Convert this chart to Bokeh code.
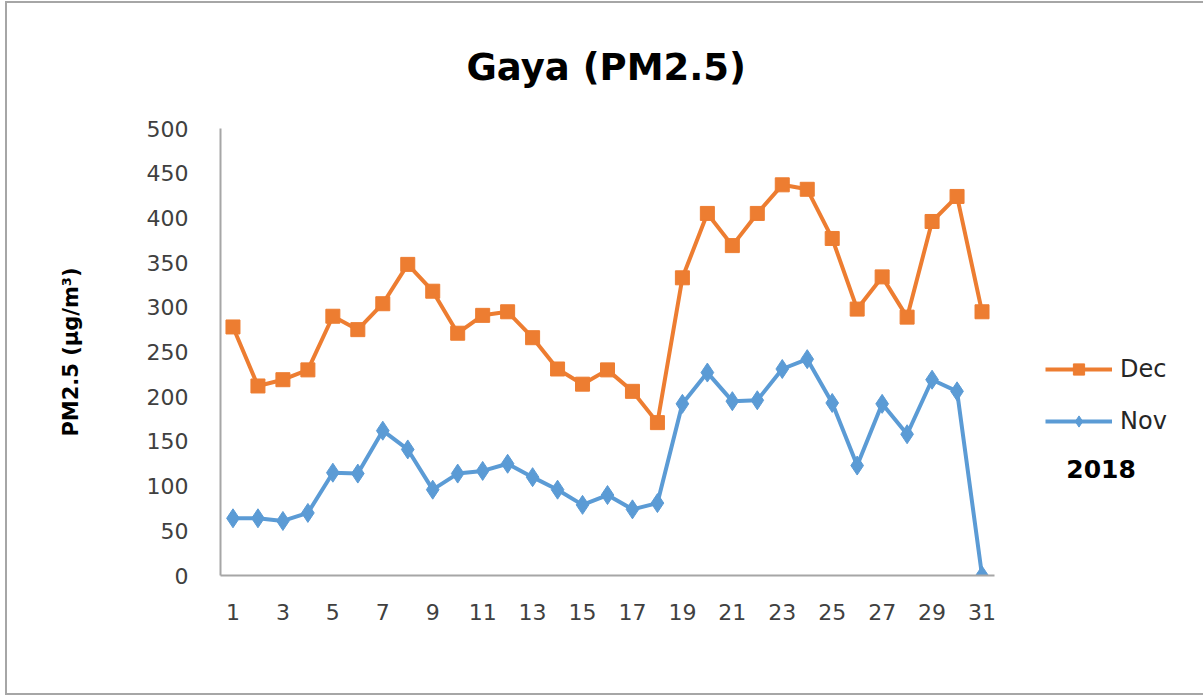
from bokeh.plotting import figure
from bokeh.models import (ColumnDataSource, FixedTicker, Legend, LegendItem,
                          Label, Range1d)
from bokeh.embed import file_html
from bokeh.resources import INLINE

days = list(range(1, 32))
dec_values = [278, 212, 219, 230, 290, 275, 304, 348, 318, 271, 291, 295, 266,
              231, 214, 230, 206, 171, 333, 405, 369, 405, 437, 432, 377, 298,
              334, 289, 396, 424, 295]
nov_values = [64, 64, 61, 70, 115, 114, 162, 141, 96, 114, 117, 125, 110, 96,
              79, 90, 74, 81, 192, 227, 195, 196, 231, 242, 193, 123, 192, 158,
              219, 206, 0]
x_tick_values = [1, 3, 5, 7, 9, 11, 13, 15, 17, 19, 21, 23, 25, 27, 29, 31]
y_tick_values = [0, 50, 100, 150, 200, 250, 300, 350, 400, 450, 500]

title_text = "Gaya (PM2.5)"
y_label = "PM2.5 (µg/m³)"
year_text = "2018"

DEC_COLOR = "#ED7D31"
NOV_COLOR = "#5B9BD5"
FONT = "DejaVu Sans"

# category axis spans 0.5..31.5 over 774 px; the frame is widened to hold the legend
frame_w_px, axis_w_px = 978, 774
x_end = 0.5 + 31 * frame_w_px / axis_w_px

src = ColumnDataSource(dict(day=days, dec=dec_values, nov=nov_values))

p = figure(width=1196, height=690, output_backend="svg", toolbar_location=None,
           x_range=Range1d(0.5, x_end), y_range=Range1d(0, 500),
           min_border_left=213, min_border_right=5,
           min_border_top=124, min_border_bottom=118,
           title=title_text)
p.margin = (3, 0, 0, 7)
p.styles = {"outline": "2px solid #a6a6a6"}

p.title.align = "left"
p.title.offset = 246
p.title.text_font = FONT
p.title.text_font_size = "37px"
p.title.text_font_style = "bold"
p.title.text_color = "#000000"
p.title.standoff = 80

p.xgrid.visible = False
p.ygrid.visible = False
p.outline_line_color = None

for ax in (p.xaxis[0], p.yaxis[0]):
    ax.axis_line_color = "#a6a6a6"
    ax.axis_line_width = 2
    ax.major_tick_line_color = None
    ax.minor_tick_line_color = None
    ax.major_tick_out = 0
    ax.major_tick_in = 0
    ax.major_label_text_font = FONT
    ax.major_label_text_font_size = "22px"
    ax.major_label_text_color = "#404040"

p.xaxis.bounds = (0.5, 31.5)
p.xaxis.ticker = FixedTicker(ticks=x_tick_values)
p.yaxis.ticker = FixedTicker(ticks=y_tick_values)
p.xaxis.major_label_standoff = 28
p.yaxis.major_label_standoff = 32

p.yaxis.axis_label = y_label
p.yaxis.axis_label_text_font = FONT
p.yaxis.axis_label_text_font_size = "21px"
p.yaxis.axis_label_text_font_style = "bold"
p.yaxis.axis_label_text_color = "#000000"
p.yaxis.axis_label_standoff = 61

nov_line = p.line("day", "nov", source=src, line_color=NOV_COLOR, line_width=4)
nov_pts = p.scatter("day", "nov", source=src, marker="diamond", size=19,
                    fill_color=NOV_COLOR, line_color=NOV_COLOR)
dec_line = p.line("day", "dec", source=src, line_color=DEC_COLOR, line_width=4)
dec_pts = p.scatter("day", "dec", source=src, marker="square", size=14,
                    fill_color=DEC_COLOR, line_color=DEC_COLOR)

legend = Legend(items=[LegendItem(label="Dec", renderers=[dec_line, dec_pts]),
                       LegendItem(label="Nov", renderers=[nov_line, nov_pts])],
                location=(825, 140), orientation="vertical",
                glyph_width=67, glyph_height=28, label_height=28,
                label_standoff=8, spacing=24, padding=10, margin=0,
                label_text_font=FONT, label_text_font_size="24px",
                label_text_color="#262626",
                background_fill_alpha=0, border_line_color=None)
p.add_layout(legend)

p.add_layout(Label(x=35.77, y=119.4, text=year_text, text_font=FONT,
                   text_font_size="25px", text_font_style="bold",
                   text_align="center", text_baseline="middle",
                   text_color="#000000"))

open("out.html", "w").write(file_html(p, INLINE))
